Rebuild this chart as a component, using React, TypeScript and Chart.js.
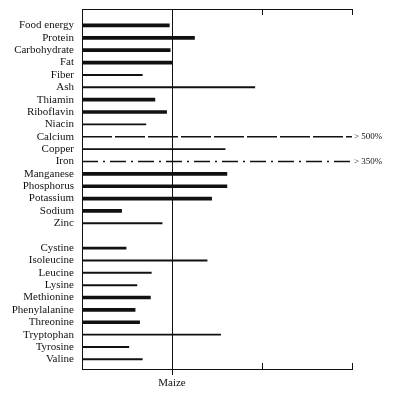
import React, { useEffect, useRef } from "react";
import { Chart, registerables } from "chart.js";

Chart.register(...registerables);

// Nutrient rows (blank row separates the amino acids)
const categories = [
  "Food energy", "Protein", "Carbohydrate", "Fat", "Fiber", "Ash", "Thiamin",
  "Riboflavin", "Niacin", "Calcium", "Copper", "Iron", "Manganese", "Phosphorus",
  "Potassium", "Sodium", "Zinc", "", "Cystine", "Isoleucine", "Leucine", "Lysine",
  "Methionine", "Phenylalanine", "Threonine", "Tryptophan", "Tyrosine", "Valine",
];

// Percent of maize (maize = 100)
const values: (number | null)[] = [
  97, 125, 98, 100, 67, 192, 81, 94, 71, 500, 159, 350, 161, 161, 144, 44, 89,
  null, 49, 139, 77, 61, 76, 59, 64, 154, 52, 67,
];

// Line style per row
const styles: (string | null)[] = [
  "thick", "thick", "thick", "thick", "thin", "thin", "thick", "thick", "thin",
  "dash", "thin", "dashdot", "thick", "thick", "thick", "thick", "thin", null,
  "medium", "thin", "thin", "thin", "thick", "thick", "thick", "thin", "thin", "thin",
];

const overflowLabels = [
  "", "", "", "", "", "", "", "", "", "> 500%", "", "> 350%", "", "", "", "", "",
  "", "", "", "", "", "", "", "", "", "", "",
];

const xTicks = [0, 100, 200, 300];
const xTickLabels = ["", "Maize", "", ""];
const innerTicks = [200, 300];

const INK = "#111";

export default function App() {
  const ref = useRef<HTMLCanvasElement | null>(null);

  useEffect(() => {
    if (!ref.current) return;
    const rowsOf = (s: string) =>
      categories
        .map((_, i) => i)
        .filter((i) => styles[i] === s && values[i] !== null)
        .map((i) => ({ x: values[i] as number, y: i }));

    const barDs = (s: string, w: number) => ({
      type: "bar" as const,
      data: rowsOf(s),
      backgroundColor: INK,
      borderWidth: 0,
      grouped: false,
      barPercentage: 1,
      categoryPercentage: 1,
      maxBarThickness: w,
      clip: 0,
    });

    const lineDs = (s: string, dash: number[]) => ({
      type: "line" as const,
      data: rowsOf(s).flatMap((p) => [
        { x: 0, y: p.y },
        { x: p.x, y: p.y },
      ]),
      borderColor: INK,
      borderWidth: 1.5,
      borderDash: dash,
      pointRadius: 0,
      fill: false,
      clip: 0,
    });

    const yMin = -1.33;
    const yMax = 27.78;
    const rowTicks = (scale: any) => {
      scale.ticks = categories.map((_, i) => ({ value: i }));
    };
    const noPad = (scale: any) => {
      scale.paddingTop = 0;
      scale.paddingBottom = 0;
      scale.paddingLeft = 0;
      scale.paddingRight = 0;
    };

    const chart = new Chart(ref.current, {
      type: "bar",
      data: {
        datasets: [
          barDs("thick", 3),
          barDs("medium", 2),
          barDs("thin", 1.3),
          lineDs("dash", [30, 3]),
          lineDs("dashdot", [16, 5, 2, 5]),
        ] as any,
      },
      options: {
        indexAxis: "y",
        animation: false,
        responsive: false,
        layout: { padding: { top: 9, left: 0, right: 0, bottom: 0 } },
        plugins: { legend: { display: false }, tooltip: { enabled: false } },
        scales: {
          x: {
            type: "linear",
            position: "bottom",
            min: 0,
            max: 300,
            offset: false,
            afterBuildTicks: (scale: any) => {
              scale.ticks = xTicks.map((v) => ({ value: v }));
            },
            afterFit: (scale: any) => {
              scale.height = 27;
              noPad(scale);
            },
            ticks: {
              autoSkip: false,
              maxRotation: 0,
              padding: 2,
              color: INK,
              font: { family: "Liberation Serif", size: 11 },
              callback: (v: any) => xTickLabels[xTicks.indexOf(Number(v))] ?? "",
            },
            grid: {
              display: true,
              offset: false,
              drawOnChartArea: true,
              drawTicks: true,
              tickLength: 6,
              lineWidth: 1,
              color: (c: any) => (c.tick && c.tick.value === 100 ? INK : "transparent"),
              tickColor: (c: any) => (c.tick && c.tick.value === 100 ? INK : "transparent"),
            },
            border: { display: true, color: INK, width: 1 },
          },
          x2: {
            type: "linear",
            position: "top",
            min: 0,
            max: 300,
            offset: false,
            afterFit: (scale: any) => {
              scale.height = 0;
              noPad(scale);
            },
            ticks: { display: false },
            grid: { display: false, drawTicks: false },
            border: { display: true, color: INK, width: 1 },
          },
          y: {
            type: "linear",
            position: "left",
            reverse: true,
            offset: false,
            min: yMin,
            max: yMax,
            afterBuildTicks: rowTicks,
            afterFit: (scale: any) => {
              scale.width = 82;
              noPad(scale);
            },
            ticks: {
              autoSkip: false,
              padding: 8,
              color: INK,
              font: { family: "Liberation Serif", size: 11 },
              callback: (v: any) =>
                Number.isInteger(Number(v)) ? categories[Number(v)] ?? "" : "",
            },
            grid: { display: false, offset: false, drawTicks: false },
            border: { display: true, color: INK, width: 1 },
          },
          y2: {
            type: "linear",
            position: "right",
            reverse: true,
            offset: false,
            min: yMin,
            max: yMax,
            afterBuildTicks: rowTicks,
            afterFit: (scale: any) => {
              scale.width = 41;
              noPad(scale);
            },
            ticks: {
              autoSkip: false,
              padding: 2,
              color: INK,
              font: { family: "Liberation Serif", size: 9 },
              callback: (v: any) =>
                Number.isInteger(Number(v)) ? overflowLabels[Number(v)] ?? "" : "",
            },
            grid: { display: false, offset: false, drawTicks: false },
            border: { display: false },
          },
        },
      },
      plugins: [
        {
          id: "innerTicks",
          afterDraw(c: any) {
            const { ctx, chartArea } = c;
            const sx = c.scales.x;
            ctx.save();
            ctx.strokeStyle = INK;
            ctx.lineWidth = 1;
            innerTicks.forEach((v) => {
              const px = Math.round(sx.getPixelForValue(v)) + 0.5;
              ctx.beginPath();
              ctx.moveTo(px, chartArea.top);
              ctx.lineTo(px, chartArea.top + 6);
              ctx.moveTo(px, chartArea.bottom);
              ctx.lineTo(px, chartArea.bottom - 6);
              ctx.stroke();
            });
            ctx.restore();
          },
        },
      ],
    });
    return () => chart.destroy();
  }, []);

  return (
    <div style={{ position: "absolute", left: 0, top: 0, width: 393, height: 396, background: "#fff" }}>
      <canvas ref={ref} width={393} height={396} style={{ display: "block" }} />
    </div>
  );
}
